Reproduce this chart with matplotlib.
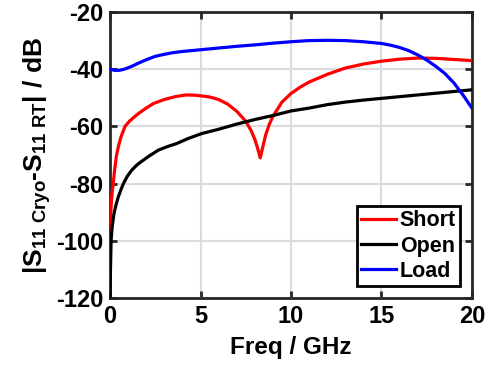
import matplotlib
matplotlib.use("Agg")
import matplotlib.pyplot as plt

plt.rcParams['font.family'] = ['Liberation Sans', 'DejaVu Sans']
plt.rcParams['font.weight'] = 'bold'
plt.rcParams['axes.unicode_minus'] = False
plt.rcParams['mathtext.fontset'] = 'custom'
plt.rcParams['mathtext.rm'] = 'Liberation Sans:bold'
plt.rcParams['mathtext.it'] = 'Liberation Sans:bold'
plt.rcParams['mathtext.bf'] = 'Liberation Sans:bold'
plt.rcParams['mathtext.default'] = 'rm'

# Short
short_f = [0, 0.02, 0.04, 0.08, 0.12, 0.18, 0.25, 0.35, 0.46, 0.6, 0.83, 1.1, 1.57, 2.0,
           2.4, 3.0, 3.6, 4.2, 4.7, 5.0, 5.5, 6.0, 6.5, 7.0, 7.5, 7.8, 8.0, 8.15, 8.3, 8.45,
           8.6, 8.8, 9.0, 9.5, 10, 10.5, 11, 12, 13, 14, 15, 16, 17, 18, 19, 20]
short_v = [-100, -94, -90.5, -86, -83, -80, -75.5, -70.5, -67.1, -63.8, -60, -58, -55.5,
           -53.6, -52, -50.6, -49.6, -49.0, -49.1, -49.3, -49.7, -50.6, -52.2, -54.7, -58.2,
           -61.5, -64.5, -67.5, -71, -67, -63, -59.3, -56.5, -51.5, -48.5, -46.3, -44.5,
           -41.8, -39.6, -38.2, -37.2, -36.5, -36.1, -36.2, -36.6, -37.0]

# Open
open_f = [0, 0.02, 0.06, 0.12, 0.22, 0.33, 0.46, 0.6, 0.74, 0.95, 1.2, 1.5, 1.84, 2.2, 2.67,
          3.15, 3.68, 4.33, 5.07, 6, 7, 8, 9, 10, 11, 12, 13, 14, 15, 16, 17, 18, 19, 20]
open_v = [-120, -112, -100, -95, -90.5, -87.5, -84.6, -82.2, -80, -77.5, -75.3, -73.4,
          -71.8, -70.2, -68.3, -67.1, -66, -64.2, -62.5, -61, -59.2, -57.6, -56.2, -54.6,
          -53.6, -52.4, -51.5, -50.8, -50.2, -49.6, -49.0, -48.4, -47.8, -47.2]

# Load
load_f = [0, 0.25, 0.5, 0.8, 1.2, 1.6, 2.0, 2.5, 3, 3.5, 4, 5, 6, 7, 8, 9, 10, 11, 12, 13,
          14, 15, 15.5, 16, 16.5, 17, 17.5, 18, 18.5, 19, 19.5, 19.8, 20]
load_v = [-40, -40.4, -40.4, -40, -39, -37.8, -36.7, -35.5, -34.8, -34.2, -33.8, -33.2,
          -32.6, -32.0, -31.5, -30.9, -30.4, -30.0, -29.9, -30.0, -30.4, -31.0, -31.6,
          -32.4, -33.5, -35.0, -36.8, -39.0, -41.5, -44.8, -49.0, -51.8, -53.6]

xticks = [0, 5, 10, 15, 20]
yticks = [-120, -100, -80, -60, -40, -20]

fig = plt.figure(figsize=(4.92, 3.70), dpi=100)
ax = fig.add_axes([110/492, 1-298/370, 362/492, 286/370])

lw = 2.3
ax.plot(short_f, short_v, color='#ff0000', lw=lw, label='Short', zorder=3)
ax.plot(open_f, open_v, color='#000000', lw=lw, label='Open', zorder=3)
ax.plot(load_f, load_v, color='#0000ff', lw=lw, label='Load', zorder=3)

ax.set_xlim(0, 20)
ax.set_ylim(-120, -20)
ax.set_xticks(xticks)
ax.set_yticks(yticks)
ax.grid(True, color='#dcdcdc', lw=1.5)
ax.set_axisbelow(True)
for s in ax.spines.values():
    s.set_linewidth(2)
    s.set_color('#262626')
ax.tick_params(direction='in', length=5, width=2, color='#262626', labelsize=17,
               top=True, right=True, pad=5)
for lab in ax.get_xticklabels() + ax.get_yticklabels():
    lab.set_fontweight('bold')

ax.set_xlabel('Freq / GHz', fontsize=17.5, fontweight='bold', labelpad=6)
ax.set_ylabel(r'|S$_{11\ Cryo}$-S$_{11\ RT}$| / dB', fontsize=19, fontweight='bold', labelpad=2)

leg = ax.legend(loc='lower right', fontsize=15.5, frameon=True, fancybox=False,
                edgecolor='#000000', framealpha=1, handlelength=1.65, handletextpad=0.15,
                borderpad=0.2, labelspacing=0.2, borderaxespad=0.55)
leg.get_frame().set_linewidth(2)
for t in leg.get_texts():
    t.set_fontweight('bold')

fig.savefig('out.png', dpi=100)
